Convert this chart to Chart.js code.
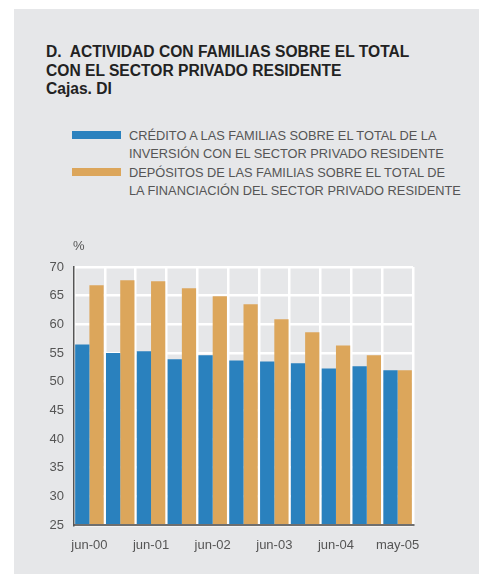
<!DOCTYPE html>
<html>
<head>
<meta charset="utf-8">
<script src="https://cdn.jsdelivr.net/npm/chart.js@4"></script>
<style>
  html, body { margin: 0; padding: 0; background: #fff; }
  body { width: 479px; height: 578px; position: relative; overflow: hidden; font-family: "Liberation Sans", Arial, sans-serif; }
  #panel { position: absolute; left: 14px; top: 9px; width: 465px; height: 565px; background: #e6e7e9; }
  #title { position: absolute; left: 46px; top: 43px; font-size: 15.6px; font-weight: bold; line-height: 18.5px; color: #222; white-space: nowrap; }
  .leg { position: absolute; left: 72px; }
  .leg .sw { position: absolute; left: 0; top: 4px; width: 49px; height: 8px; }
  .leg .txt { position: absolute; left: 57px; top: 0; font-size: 12.8px; line-height: 18px; color: #555; white-space: nowrap; }
  canvas { position: absolute; left: 0; top: 0; }
</style>
</head>
<body>
<div id="panel"></div>
<div id="title">D.&nbsp; ACTIVIDAD CON FAMILIAS SOBRE EL TOTAL<br>CON EL SECTOR PRIVADO RESIDENTE<br>Cajas. DI</div>
<div class="leg" style="top:127px"><div class="sw" style="background:#2a81be"></div><div class="txt">CRÉDITO A LAS FAMILIAS SOBRE EL TOTAL DE LA<br>INVERSIÓN CON EL SECTOR PRIVADO RESIDENTE</div></div>
<div class="leg" style="top:164px"><div class="sw" style="background:#dca65b"></div><div class="txt">DEPÓSITOS DE LAS FAMILIAS SOBRE EL TOTAL DE<br>LA FINANCIACIÓN DEL SECTOR PRIVADO RESIDENTE</div></div>
<canvas id="chart" width="479" height="578"></canvas>
<script>
// semestral data, Cajas
const categories = ['jun-00', 'dic-00', 'jun-01', 'dic-01', 'jun-02', 'dic-02', 'jun-03', 'dic-03', 'jun-04', 'dic-04', 'may-05'];
const credito = [56.5, 55.0, 55.3, 53.9, 54.6, 53.7, 53.5, 53.2, 52.3, 52.7, 52.0];
const depositos = [66.8, 67.7, 67.5, 66.3, 64.9, 63.5, 60.9, 58.6, 56.3, 54.6, 52.0];
const yTicks = [25, 30, 35, 40, 45, 50, 55, 60, 65, 70];

const FONT = '"Liberation Sans", Arial, sans-serif';

// "%" above the y axis
const unitLabel = {
  id: 'unitLabel',
  afterDraw(chart) {
    const { ctx, chartArea } = chart;
    ctx.save();
    ctx.font = '13px ' + FONT;
    ctx.fillStyle = '#555';
    ctx.textBaseline = 'alphabetic';
    ctx.fillText('%', chartArea.left - 1, chartArea.top - 17);
    ctx.restore();
  }
};

new Chart(document.getElementById('chart'), {
  type: 'bar',
  data: {
    labels: categories,
    datasets: [
      { label: 'Crédito', data: credito, backgroundColor: '#2a81be', barPercentage: 1, categoryPercentage: 0.925 },
      { label: 'Depósitos', data: depositos, backgroundColor: '#dca65b', barPercentage: 1, categoryPercentage: 0.925 }
    ]
  },
  options: {
    responsive: false,
    animation: false,
    layout: { padding: { top: 267, right: 66, bottom: 13, left: 0 } },
    plugins: { legend: { display: false }, tooltip: { enabled: false } },
    scales: {
      x: {
        afterFit(scale) { scale.height = 40; },
        grid: { offset: true, color: '#fff', lineWidth: 2.5, drawTicks: false },
        border: { display: true, color: '#6f6f6f', width: 2, z: 1 },
        ticks: {
          autoSkip: false, maxRotation: 0, padding: 13,
          color: '#555', font: { family: FONT, size: 13 },
          callback: (v, i) => (i % 2 === 0 ? categories[i] : '')
        }
      },
      y: {
        min: 25, max: 70,
        afterFit(scale) { scale.width = 74; },
        afterBuildTicks(scale) { scale.ticks = yTicks.map(v => ({ value: v })); },
        grid: { color: '#fff', lineWidth: 2.5, drawTicks: false },
        border: { display: true, color: '#555', width: 1.5, z: 1 },
        ticks: { padding: 10, color: '#555', font: { family: FONT, size: 13 } }
      }
    }
  },
  plugins: [unitLabel]
});
</script>
</body>
</html>
